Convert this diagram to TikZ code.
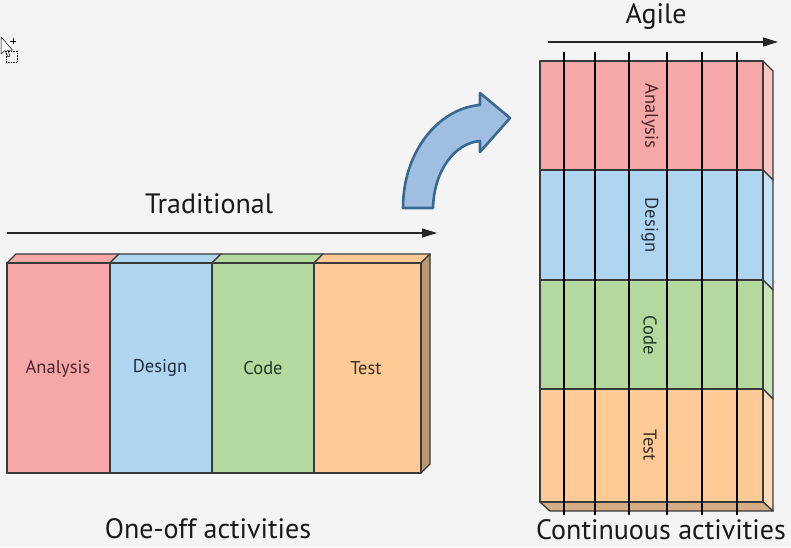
\documentclass[tikz,border=0pt]{standalone}
\usepackage{fontspec}
\setmainfont{PT Sans}
\usetikzlibrary{arrows.meta}
\definecolor{bgc}{HTML}{F4F4F4}
\definecolor{pinkc}{HTML}{F6A8A9}
\definecolor{bluec}{HTML}{AFD5F1}
\definecolor{greenc}{HTML}{B3D99F}
\definecolor{orangec}{HTML}{FECB96}
\definecolor{pinks}{HTML}{F9C4C4}
\definecolor{blues}{HTML}{C8E2F6}
\definecolor{greens}{HTML}{C9E5BA}
\definecolor{oranges}{HTML}{FDDAB6}
\definecolor{brownside}{HTML}{BC9872}
\definecolor{tanbottom}{HTML}{D6AE86}
\definecolor{edgec}{HTML}{3A3A3A}
\definecolor{arrfill}{HTML}{9FBFE2}
\definecolor{arrdraw}{HTML}{3B6890}
\definecolor{txtpink}{HTML}{4A2426}
\definecolor{txtblue}{HTML}{1F2F42}
\definecolor{txtgreen}{HTML}{1F3A20}
\definecolor{txtorange}{HTML}{3E2E1E}
\begin{document}
\begin{tikzpicture}[x=1pt,y=-1pt,line join=round,
  face/.style={draw=edgec,line width=1.3pt},
  lbl/.style={inner sep=0pt,font=\fontsize{18.5}{20}\selectfont},
  title/.style={inner sep=0pt,font=\fontsize{28}{32}\selectfont,text=black!90},
  timeline/.style={draw=black!85,line width=1.3pt,-{Triangle[length=15pt,width=9pt]}},
  sprint/.style={draw=black,line width=1.8pt}]
\fill[bgc] (0,0) rectangle (791,547);
\useasboundingbox (0,0) rectangle (791,547);

% cursor artifact
\filldraw[fill=white,draw=black,line width=0.5pt] (1,37) -- (1,54) -- (5,50.5) -- (8,57) -- (10,56) -- (7.5,50) -- (12.5,50) -- cycle;
\draw[black,line width=0.6pt] (10,41) -- (16,41) (13,38) -- (13,44);
\draw[black,line width=0.6pt,densely dotted] (6,51) rectangle (17,62);

% ---------- Traditional ----------
\node[title] (trad) at (209,204) {Traditional};
\coordinate (tl0) at (7,233);
\coordinate (tl1) at (437,233);
\draw[timeline] (tl0) -- (tl1);

% top faces
\filldraw[face,fill=pinkc]   (7,263) -- (16,254) -- (119,254) -- (110,263) -- cycle;
\filldraw[face,fill=bluec]   (110,263) -- (119,254) -- (221,254) -- (212,263) -- cycle;
\filldraw[face,fill=greenc]  (212,263) -- (221,254) -- (323,254) -- (314,263) -- cycle;
\filldraw[face,fill=orangec] (314,263) -- (323,254) -- (430,254) -- (421,263) -- cycle;
% side face
\filldraw[face,fill=brownside] (421,263) -- (430,254) -- (430,464) -- (421,473) -- cycle;
% front faces
\filldraw[face,fill=pinkc]   (7,263) rectangle (110,473);
\filldraw[face,fill=bluec]   (110,263) rectangle (212,473);
\filldraw[face,fill=greenc]  (212,263) rectangle (314,473);
\filldraw[face,fill=orangec] (314,263) rectangle (421,473);
\node[lbl,text=txtpink]   (ta) at (58,369) {Analysis};
\node[lbl,text=txtblue]   (td) at (160,368) {Design};
\node[lbl,text=txtgreen]  (tc) at (263,368) {Code};
\node[lbl,text=txtorange] (tt) at (366,368) {Test};

\node[title] (oneoff) at (208,529) {One-off activities};

% ---------- curved arrow ----------
\filldraw[fill=arrfill,draw=arrdraw,line width=2.6pt]
  (403,208) .. controls (403,150) and (440,108) .. (480,105)
  -- (480,93) -- (510,118) -- (480,152) -- (480,141)
  .. controls (455,143) and (434,170) .. (433,208) -- cycle;

% ---------- Agile ----------
\node[title] (agile) at (656,17) {Agile};
\coordinate (al0) at (548,42);
\coordinate (al1) at (778,42);
\draw[timeline] (al0) -- (al1);

% side faces
\filldraw[face,fill=pinks]   (763,61) -- (773,71) -- (773,180) -- (763,170) -- cycle;
\filldraw[face,fill=blues]   (763,170) -- (773,180) -- (773,290) -- (763,280) -- cycle;
\filldraw[face,fill=greens]  (763,280) -- (773,290) -- (773,399) -- (763,389) -- cycle;
\filldraw[face,fill=oranges] (763,389) -- (773,399) -- (773,511) -- (763,502) -- cycle;
% bottom face
\filldraw[face,fill=tanbottom] (540,502) -- (550,511) -- (773,511) -- (763,502) -- cycle;
% bands
\filldraw[face,fill=pinkc]   (540,61) rectangle (763,170);
\filldraw[face,fill=bluec]   (540,170) rectangle (763,280);
\filldraw[face,fill=greenc]  (540,280) rectangle (763,389);
\filldraw[face,fill=orangec] (540,389) rectangle (763,502);
\node[lbl,rotate=-90,text=txtpink]   (aa) at (650,116) {Analysis};
\node[lbl,rotate=-90,text=txtblue]   (ad) at (650,225) {Design};
\node[lbl,rotate=-90,text=txtgreen]  (ac) at (650,335) {Code};
\node[lbl,rotate=-90,text=txtorange] (at) at (650,445) {Test};

% iteration lines
\foreach \xx in {564,595,629,667,702,737} {
  \draw[sprint] (\xx,52) -- (\xx,515);
}

\node[title] (cont) at (661,530) {Continuous activities};
\end{tikzpicture}
\end{document}
